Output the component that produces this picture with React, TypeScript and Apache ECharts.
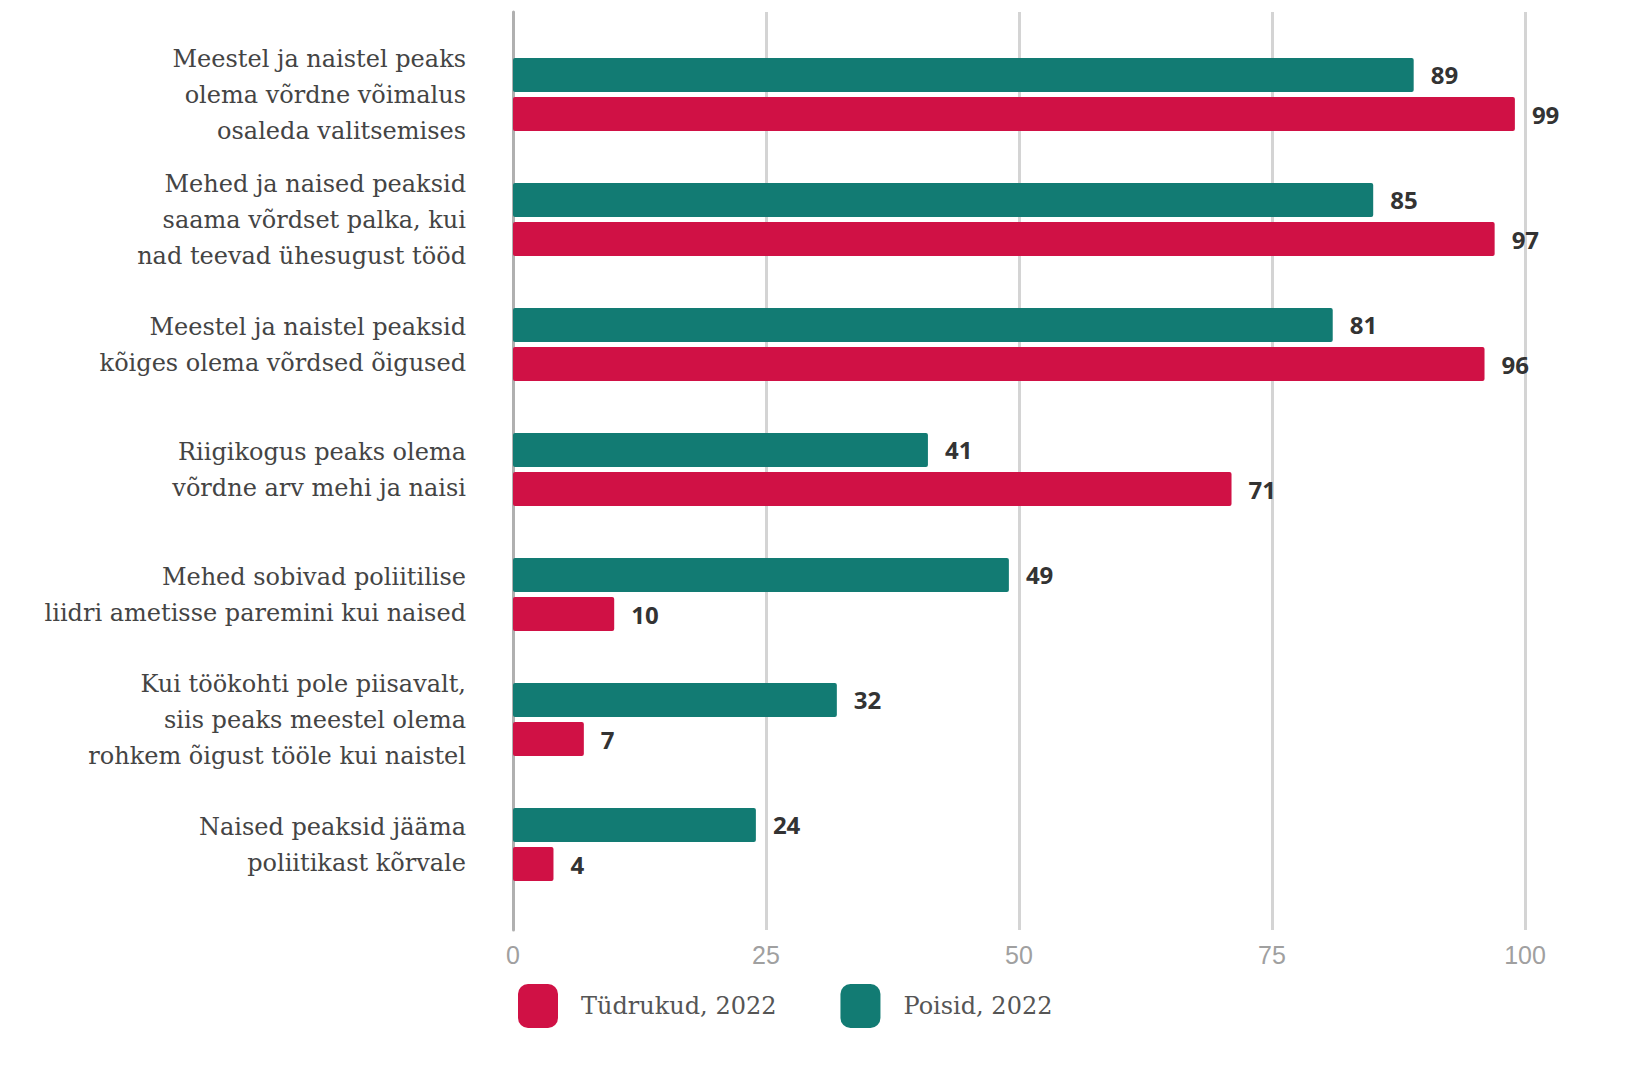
import React, { useEffect, useRef } from "react";
import * as echarts from "echarts";

const categories = [
  "Meestel ja naistel peaks\nolema võrdne võimalus\nosaleda valitsemises",
  "Mehed ja naised peaksid\nsaama võrdset palka, kui\nnad teevad ühesugust tööd",
  "Meestel ja naistel peaksid\nkõiges olema võrdsed õigused",
  "Riigikogus peaks olema\nvõrdne arv mehi ja naisi",
  "Mehed sobivad poliitilise\nliidri ametisse paremini kui naised",
  "Kui töökohti pole piisavalt,\nsiis peaks meestel olema\nrohkem õigust tööle kui naistel",
  "Naised peaksid jääma\npoliitikast kõrvale",
];
const poisid = [89, 85, 81, 41, 49, 32, 24];
const tudrukud = [99, 97, 96, 71, 10, 7, 4];
const seriesNames = ["Tüdrukud, 2022", "Poisid, 2022"];
const xTicks = { min: 0, max: 100, interval: 25 };

const TEAL = "#127b73";
const RED = "#d01145";

export default function App() {
  const ref = useRef<HTMLDivElement>(null);
  useEffect(() => {
    document.body.style.margin = "0";
    const chart = echarts.init(ref.current!, null, { renderer: "svg" });
    const labelStyle = {
      show: true,
      position: "right" as const,
      distance: 17,
      fontFamily: "Open Sans",
      fontWeight: "bold" as const,
      fontSize: 24,
      color: "#333",
    };
    chart.setOption({
      animation: false,
      backgroundColor: "#fff",
      legend: {
        data: seriesNames,
        left: 513,
        top: 979,
        itemWidth: 40,
        itemHeight: 44,
        itemGap: 64,
        icon: "roundRect",
        textStyle: {
          fontFamily: "DejaVu Serif",
          fontSize: 24,
          color: "#555",
          padding: [0, 0, 0, 18],
        },
      },
      grid: [
        { left: 513, right: 104, top: 32, height: 875 },
        { left: 513, right: 104, top: 12, height: 918 },
      ],
      xAxis: [
        { gridIndex: 0, type: "value", ...xTicks, show: false },
        {
          gridIndex: 1,
          type: "value",
          ...xTicks,
          axisLine: { show: false },
          axisTick: { show: false },
          splitLine: { show: true, lineStyle: { color: "#d4d4d4", width: 3 } },
          axisLabel: {
            margin: 12,
            fontSize: 25,
            color: "#a0a0a0",
            fontFamily: "Liberation Sans",
          },
        },
      ],
      yAxis: [
        {
          gridIndex: 0,
          type: "category",
          data: categories,
          inverse: true,
          axisLine: { show: false },
          axisTick: { show: false },
          axisLabel: {
            margin: 47,
            fontFamily: "DejaVu Serif",
            fontSize: 24,
            lineHeight: 36,
            color: "#444",
            align: "right",
          },
        },
        {
          gridIndex: 1,
          type: "value",
          min: 0,
          max: 1,
          axisLine: { show: true, lineStyle: { color: "#b0b0b0", width: 3 } },
          axisTick: { show: false },
          axisLabel: { show: false },
          splitLine: { show: false },
        },
      ],
      series: [
        {
          name: seriesNames[1],
          type: "bar",
          xAxisIndex: 0,
          yAxisIndex: 0,
          data: poisid,
          barWidth: 34,
          barGap: "15%",
          itemStyle: { color: TEAL, borderRadius: 2 },
          label: labelStyle,
          z: 3,
        },
        {
          name: seriesNames[0],
          type: "bar",
          xAxisIndex: 0,
          yAxisIndex: 0,
          data: tudrukud,
          barWidth: 34,
          barGap: "15%",
          itemStyle: { color: RED, borderRadius: 2 },
          label: labelStyle,
          z: 3,
        },
      ],
    });
    return () => chart.dispose();
  }, []);
  return <div ref={ref} style={{ width: 1629, height: 1068 }} />;
}
